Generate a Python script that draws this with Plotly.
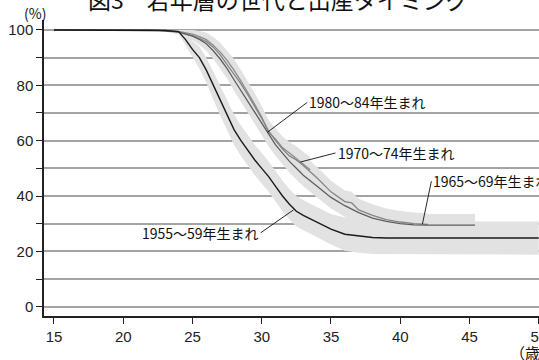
import plotly.graph_objects as go

# ---- data ----
ages_5559 = [15, 22, 23, 24, 24.5, 25, 25.5, 26, 26.5, 27, 27.5, 28, 28.5, 29, 29.5, 30, 30.5, 31,
             31.5, 32, 32.5, 33, 33.5, 34, 35, 36, 37, 38, 39, 40, 45, 50]
vals_5559 = [100, 100, 99.8, 99.4, 96.5, 93, 90, 85.5, 80, 74.5, 69, 64, 60, 56.5, 53, 50, 47, 43.5,
             40, 37, 34.5, 33, 31.8, 30.5, 28, 26.2, 25.5, 25, 24.8, 24.8, 24.8, 24.8]
ci_5559 = [0, 0, 0.3, 0.8, 2, 3, 4, 4.5, 5, 5.5, 5.5, 5.5, 5.5, 5.5, 5.5, 5.5, 5.5, 5.5,
           5.5, 5.5, 5.5, 5.5, 5.5, 5.5, 5.5, 6, 6, 6, 6, 6, 6, 6]

ages_6569 = [15, 22, 23, 24, 25, 25.5, 26, 26.5, 27, 27.5, 28, 28.5, 29, 29.5, 30, 30.5, 31, 31.5,
             32, 32.5, 33, 34, 35, 36, 37, 38, 39, 40, 41, 42, 45.4]
vals_6569 = [100, 100, 99.7, 99.2, 97.8, 96.6, 95, 92.5, 89.5, 86, 82, 78, 74, 70, 66, 62, 58.5, 55.5,
             52.5, 50, 47.5, 43.5, 39.5, 36.5, 34, 32, 30.8, 30, 29.6, 29.5, 29.5]
ci_6569 = [0, 0, 0.3, 0.8, 1.5, 2, 2.5, 3, 3.5, 3.5, 4, 4, 4, 4, 4, 4, 4, 4,
           4, 4, 4, 4, 4, 4, 4, 4, 4, 4, 4, 4, 4]

ages_7074 = [15, 22, 23, 24, 25, 25.5, 26, 26.5, 27, 27.5, 28, 28.5, 29, 29.5, 30, 30.5, 31, 31.5,
             32, 32.5, 33, 34, 35, 36, 36.5, 37, 38, 39, 40, 41, 42]
vals_7074 = [100, 100, 99.8, 99.3, 98, 97, 95.8, 93.8, 91, 87.5, 84, 80.5, 76.5, 72.5, 68, 63.5, 60, 57,
             54.5, 53, 51, 46.5, 41.5, 38, 37.5, 35, 33, 31.5, 30.6, 30, 29.7]
ci_7074 = [0, 0, 0.3, 0.8, 1.5, 2, 2.5, 3, 3.5, 3.5, 4, 4, 4, 4, 4, 4, 4, 4,
           4, 4, 4, 4, 4, 4, 4, 4, 4, 4, 4, 4, 4]

ages_8084 = [15, 22, 23, 24, 25, 25.5, 26, 26.5, 27, 27.5, 28, 28.5, 29, 29.5, 30, 30.5, 31, 31.5,
             32, 32.5, 33, 33.5]
vals_8084 = [100, 100, 99.9, 99.5, 98.5, 97.6, 96.5, 94.5, 92, 89, 85.5, 81.5, 77.5, 73, 68.5, 63, 60.5, 57.5,
             55.5, 53.5, 51.5, 49.5]
ci_8084 = [0, 0, 0.3, 0.8, 1.5, 2, 2.5, 3, 3.5, 3.5, 4, 4, 4, 4, 4, 4, 4, 4,
           4, 4.5, 4.5, 4.5]

series = [
    ("1955～59年生まれ", ages_5559, vals_5559, ci_5559, "#1a1a1a", 1.4),
    ("1965～69年生まれ", ages_6569, vals_6569, ci_6569, "#5e5e5e", 1.3),
    ("1970～74年生まれ", ages_7074, vals_7074, ci_7074, "#858585", 1.3),
    ("1980～84年生まれ", ages_8084, vals_8084, ci_8084, "#8c8c8c", 1.3),
]

x_ticks = [15, 20, 25, 30, 35, 40, 45, 50]
y_ticks = [0, 10, 20, 30, 40, 50, 60, 70, 80, 90, 100]
y_labels = ["0", "", "20", "", "40", "", "60", "", "80", "", "100"]

FONT = "Liberation Sans, Arial, sans-serif"
JFONT = "Noto Sans CJK JP, sans-serif"

fig = go.Figure()

# confidence bands first
for name, ages, vals, ci, color, w in series:
    upper = [min(v + c, 100) for v, c in zip(vals, ci)]
    lower = [v - c for v, c in zip(vals, ci)]
    fig.add_trace(go.Scatter(
        x=ages + ages[::-1], y=upper + lower[::-1],
        fill="toself", fillcolor="#e2e2e2", line=dict(width=0),
        mode="lines", hoverinfo="skip", showlegend=False))

# lines
for name, ages, vals, ci, color, w in series[::-1]:
    fig.add_trace(go.Scatter(
        x=ages, y=vals, mode="lines", name=name,
        line=dict(color=color, width=w), showlegend=False))

ann_font = dict(family=JFONT, size=14, color="#111")
labels = [
    # text, target age, target value, ax, ay (pixel offset of text)
    ("1980～84年生まれ", 30.4, 63.0, 40, -30, "left"),
    ("1970～74年生まれ", 32.8, 52.3, 35, -9, "left"),
    ("1965～69年生まれ", 41.6, 29.8, 9, -43, "left"),
    ("1955～59年生まれ", 32.3, 35.0, -33, 23, "right"),
]
for text, xa, ya, ax, ay, anchor in labels:
    fig.add_annotation(
        x=xa, y=ya, xref="x", yref="y", text=text, showarrow=True,
        arrowhead=0, arrowwidth=0.9, arrowcolor="#111",
        ax=ax, ay=ay, xanchor=anchor, yanchor="middle",
        font=ann_font, standoff=0, startstandoff=0)

# title (cut off at the top of the picture), axis unit labels
fig.add_annotation(text="図3　若年層の世代と出産タイミング", xref="paper", yref="paper",
                   x=(278 - 44) / 495, y=1 + 21 / 296, xanchor="center", yanchor="middle",
                   showarrow=False, font=dict(family=JFONT, size=23, color="#111"))
fig.add_annotation(text="(%)", xref="paper", yref="paper",
                   x=(35 - 44) / 495, y=1 + 7 / 296, xanchor="center", yanchor="middle",
                   showarrow=False, font=dict(family=JFONT, size=14, color="#111"))
fig.add_annotation(text="（歳）", xref="paper", yref="paper",
                   x=(508 - 44) / 495, y=-(36 / 296), xanchor="left", yanchor="middle",
                   showarrow=False, font=dict(family=JFONT, size=15, color="#111"))

fig.update_layout(
    width=539, height=360,
    margin=dict(l=44, r=0, t=20, b=44, autoexpand=False),
    paper_bgcolor="white", plot_bgcolor="white",
    xaxis=dict(range=[14.28, 50.02], tickvals=x_ticks, ticks="outside", ticklen=6,
               tickcolor="#222", showline=True, linecolor="#222", linewidth=1.5,
               showgrid=False, zeroline=False, ticklabeloverflow="allow", automargin=False,
               tickfont=dict(family=FONT, size=15, color="#222")),
    yaxis=dict(range=[-3.36, 103.6], tickvals=y_ticks, ticktext=y_labels,
               ticks="outside", ticklen=6, tickcolor="#222", automargin=False,
               showline=True, linecolor="#222", linewidth=1.5,
               showgrid=True, gridcolor="#a3a3a3", gridwidth=1.5, zeroline=False,
               tickfont=dict(family=FONT, size=15, color="#222")),
)

fig.write_html("out.html", config={"displayModeBar": False},
               post_script="document.body.style.margin='0px';document.body.style.padding='0px';")
